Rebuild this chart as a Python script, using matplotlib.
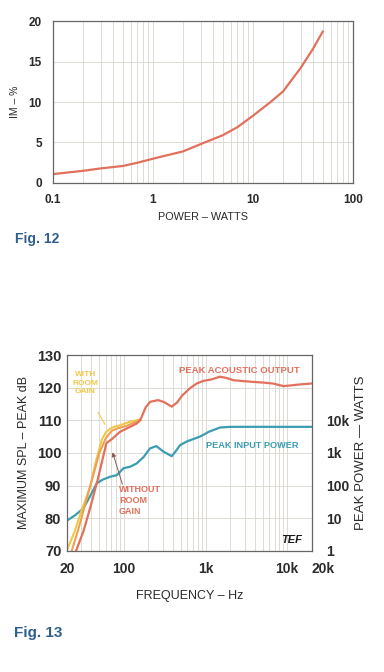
import numpy as np
import matplotlib
matplotlib.use("Agg")
import matplotlib.pyplot as plt
from matplotlib.ticker import FixedLocator, NullFormatter, LogLocator

plt.rcParams['font.family'] = ['Liberation Sans', 'DejaVu Sans']
plt.rcParams['font.weight'] = 'bold'

## FIG 12 DATA : IM distortion vs power
im_power = [0.1, 0.2, 0.3, 0.5, 0.7, 1, 2, 3, 5, 7, 10, 15, 20, 30, 40, 50]
im_pct = [1.1, 1.5, 1.8, 2.1, 2.5, 3.0, 3.9, 4.8, 5.9, 6.9, 8.3, 10.0, 11.3, 14.2, 16.6, 18.7]

## FIG 13 DATA : max SPL vs frequency
out_freq = [26, 32, 39, 48, 61, 71, 90, 119, 143, 158, 185, 210, 263, 310, 385, 450, 512, 640, 780, 940, 1200, 1500, 1800, 2200, 3000, 3800, 5000, 6700, 9000, 11000, 14000, 20000]
out_db = [70, 76, 83.5, 92, 103, 104.2, 106.5, 108, 109, 110, 114, 115.7, 116.2, 115.6, 114.2, 115.5, 117.5, 119.8, 121.3, 122.1, 122.6, 123.4, 123.0, 122.3, 122.0, 121.8, 121.6, 121.3, 120.5, 120.7, 121.0, 121.3]

with_freq = [20, 25, 30, 38.6, 45, 53.5, 60, 68, 80, 90, 119, 143, 160]
with_db = [70, 76, 82, 89.6, 97, 104, 106.3, 107.5, 108.2, 108.5, 109.6, 110, 110.3]

mid_freq = [23, 28, 35, 42, 50, 60, 71, 85, 108, 130, 158]
mid_db = [70, 77, 86, 93, 100, 104.5, 106.8, 107.6, 108.3, 109.2, 110]

inp_freq = [20, 25, 32, 40, 46.6, 55, 68, 82, 99, 120, 144, 175, 209, 250, 305, 385, 430, 488, 600, 855, 1100, 1500, 2000, 5000, 20000]
inp_db = [79.2, 80.8, 83, 87.5, 90.7, 91.8, 92.7, 93.2, 95.3, 95.8, 96.8, 98.8, 101.4, 102.1, 100.4, 99, 100.5, 102.4, 103.6, 105, 106.5, 107.8, 108, 108, 108]

freq_ticks = [20, 100, 1000, 10000, 20000]
freq_labels = ['20', '100', '1k', '10k', '20k']
spl_ticks = [70, 80, 90, 100, 110, 120, 130]
watt_ticks = [70, 80, 90, 100, 110]
watt_labels = ['1', '10', '100', '1k', '10k']

RED = '#e2705c'
YEL = '#f2c84a'
ORA = '#f0a050'
TEAL = '#3b9db2'
GRID = '#dcdcd4'
FIGBLUE = '#2f5f8c'
TXT = '#2a2a2a'

fig = plt.figure(figsize=(3.84, 6.72), dpi=100)

## TOP CHART
ax1 = fig.add_axes([0.138, 0.7277, 0.781, 0.241])
ax1.plot(im_power, im_pct, color=RED, lw=1.6)
ax1.set_xscale('log')
ax1.set_xlim(0.1, 100)
ax1.set_ylim(0, 20)
ax1.set_xticks([0.1, 1, 10, 100])
ax1.set_xticklabels(['0.1', '1', '10', '100'])
ax1.xaxis.set_minor_locator(LogLocator(base=10, subs=np.arange(2, 10)))
ax1.xaxis.set_minor_formatter(NullFormatter())
ax1.set_yticks([0, 5, 10, 15, 20])
ax1.grid(True, which='both', axis='x', color=GRID, lw=0.7)
ax1.grid(True, which='major', axis='y', color=GRID, lw=0.7)
ax1.tick_params(which='both', length=0, labelsize=8.5, colors=TXT, pad=8)
ax1.set_xlabel('POWER – WATTS', fontsize=7.8, color=TXT, labelpad=4)
ax1.set_ylabel('IM – %', fontsize=7.5, color=TXT, labelpad=6)
for s in ax1.spines.values():
    s.set_color('#666666')
    s.set_linewidth(0.9)
fig.text(0.04, 0.638, 'Fig. 12', fontsize=10, color=FIGBLUE, fontweight='bold')

## BOTTOM CHART
ax2 = fig.add_axes([0.174, 0.1805, 0.638, 0.291])
ax2.plot(inp_freq, inp_db, color=TEAL, lw=1.6)
ax2.plot(with_freq, with_db, color=YEL, lw=1.5)
ax2.plot(mid_freq, mid_db, color=ORA, lw=1.5)
ax2.plot(out_freq, out_db, color=RED, lw=1.6)
ax2.set_xscale('log')
ax2.set_xlim(20, 20000)
ax2.set_ylim(70, 130)
ax2.xaxis.set_major_locator(FixedLocator(freq_ticks))
ax2.set_xticklabels(freq_labels)
ax2.get_xticklabels()[-1].set_horizontalalignment('left')
ax2.xaxis.set_minor_locator(LogLocator(base=10, subs=np.arange(2, 10)))
ax2.xaxis.set_minor_formatter(NullFormatter())
ax2.set_yticks(spl_ticks)
ax2.grid(True, which='both', axis='x', color=GRID, lw=0.7)
ax2.grid(True, which='major', axis='y', color=GRID, lw=0.7)
ax2.tick_params(which='both', length=0, labelsize=10.5, colors=TXT, pad=4)
ax2.tick_params(axis='x', labelsize=10, pad=8)
ax2.set_xlabel('FREQUENCY – Hz', fontsize=9, color=TXT, labelpad=10)
ax2.set_ylabel('MAXIMUM SPL – PEAK dB', fontsize=9, color=TXT, labelpad=5)
for s in ax2.spines.values():
    s.set_color('#666666')
    s.set_linewidth(0.9)

ax3 = ax2.twinx()
ax3.set_ylim(70, 130)
ax3.set_yticks(watt_ticks)
ax3.set_yticklabels(watt_labels)
ax3.tick_params(length=0, labelsize=10, colors=TXT, pad=10)
ax3.set_ylabel('PEAK POWER — WATTS', fontsize=9.5, color=TXT, labelpad=4)
for s in ax3.spines.values():
    s.set_visible(False)

ax2.text(33.5, 121.4, 'WITH\nROOM\nGAIN', color=YEL, fontsize=6, ha='center', va='center', linespacing=1.3)
ax2.annotate('', xy=(61, 108), xytext=(46.5, 113.2),
             arrowprops=dict(arrowstyle='-', color=YEL, lw=0.8))
ax2.text(87, 85.5, 'WITHOUT\nROOM\nGAIN', color=RED, fontsize=6.5, ha='left', va='center', linespacing=1.3)
ax2.annotate('', xy=(71, 101), xytext=(98, 89.6),
             arrowprops=dict(arrowstyle='-|>', color='#8a5a50', lw=0.7, mutation_scale=6))
ax2.text(2570, 125.4, 'PEAK ACOUSTIC OUTPUT', color=RED, fontsize=6.8, ha='center', va='center')
ax2.text(3720, 102.4, 'PEAK INPUT POWER', color=TEAL, fontsize=6.6, ha='center', va='center')
ax2.text(11350, 73.3, 'TEF', color='#1a1a1a', fontsize=8, fontstyle='italic', fontweight='bold', ha='center', va='center')

fig.text(0.037, 0.052, 'Fig. 13', fontsize=11, color=FIGBLUE, fontweight='bold')

plt.savefig('out.png', dpi=100)
